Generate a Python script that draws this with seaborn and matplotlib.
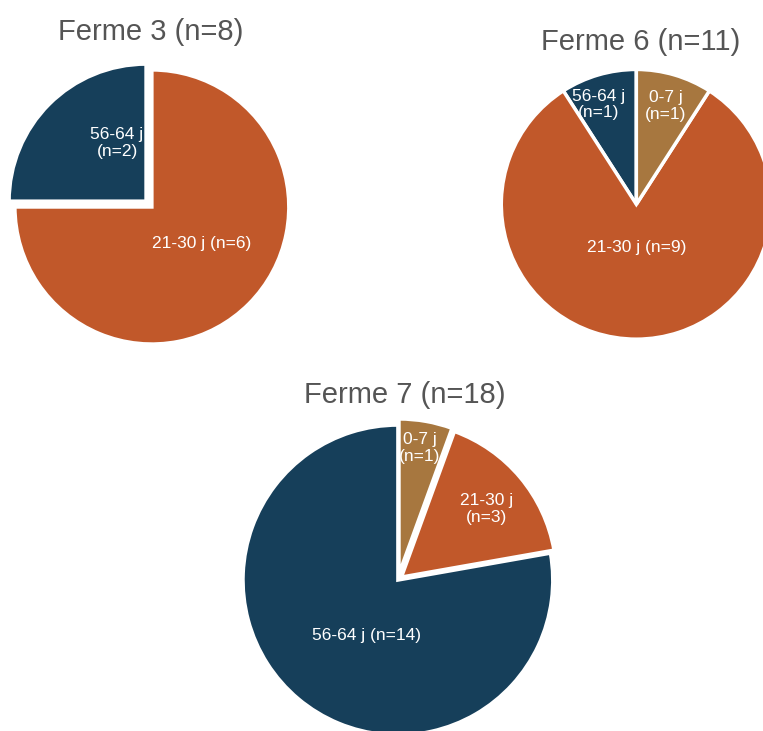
import seaborn as sns
import matplotlib.pyplot as plt

# data
fermes = ["Ferme 3", "Ferme 6", "Ferme 7"]
categories = ["56-64 j", "21-30 j", "0-7 j"]
ferme3 = [2, 6, 0]
ferme6 = [1, 9, 1]
ferme7 = [14, 3, 1]

sns.set_theme(style="white")
plt.rcParams["font.family"] = ["Liberation Sans", "DejaVu Sans"]
palette = sns.color_palette(["#163F5A", "#C1582A", "#A7773F"])

fig = plt.figure(figsize=(7.63, 7.31), dpi=100)

# axes boxes (figure fraction) and label layout per farm
boxes = [
    [0.017, 0.532, 0.359, 0.375],
    [0.657, 0.536, 0.354, 0.369],
    [0.3185, -0.0055, 0.406, 0.424],
]
explodes = [
    [0.04, 0.02, 0.0],
    [0.0, 0.0, 0.0],
    [0.0, 0.03, 0.04],
]
label_pos = [
    [(-0.24, 0.45), (0.38, -0.28), None],
    [(-0.28, 0.74), (0.0, -0.32), (0.22, 0.73)],
    [(-0.2, -0.36), (0.57, 0.46), (0.14, 0.85)],
]
multiline = [
    [True, False, False],
    [True, False, True],
    [False, True, True],
]
title_xy = [(0.197, 0.956), (0.839, 0.943), (0.531, 0.460)]

for i, vals in enumerate([ferme3, ferme6, ferme7]):
    ax = fig.add_axes(boxes[i])
    keep = [k for k, v in enumerate(vals) if v > 0]
    ax.pie([vals[k] for k in keep],
           colors=[palette[k] for k in keep],
           explode=[explodes[i][k] for k in keep],
           startangle=90, counterclock=True, radius=1,
           wedgeprops=dict(edgecolor="white", linewidth=2.5))
    ax.set_xlim(-1, 1)
    ax.set_ylim(-1, 1)
    ax.set_aspect("auto")
    ax.axis("off")
    for k in keep:
        sep = "\n" if multiline[i][k] else " "
        txt = f"{categories[k]}{sep}(n={vals[k]})"
        x, y = label_pos[i][k]
        ax.text(x, y, txt, ha="center", va="center", color="white",
                fontsize=12.5, linespacing=1.15)
    fig.text(title_xy[i][0], title_xy[i][1], f"{fermes[i]} (n={sum(vals)})",
             ha="center", va="center", fontsize=21, color="#555555")

fig.savefig("out.png", dpi=100)
